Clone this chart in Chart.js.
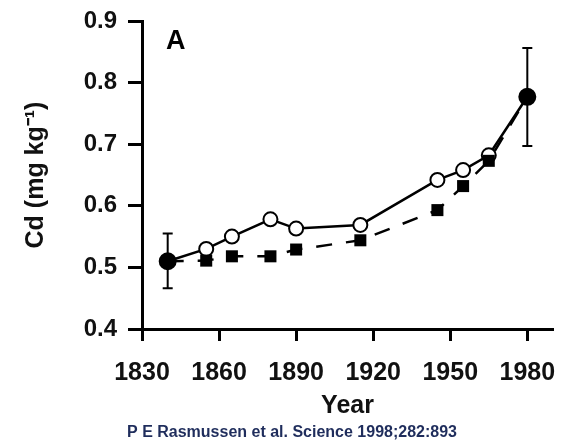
<!DOCTYPE html>
<html>
<head>
<meta charset="utf-8">
<script src="https://cdn.jsdelivr.net/npm/chart.js@4"></script>
<style>
  html, body { margin: 0; padding: 0; background: #fff; }
  #wrap { width: 563px; height: 443px; }
</style>
</head>
<body>
<div id="wrap"><canvas id="cdChart"></canvas></div>
<script>
// Cd in soil over time (Rasmussen et al. 1998, panel A)
const years = [1840, 1855, 1865, 1880, 1890, 1915, 1945, 1955, 1965, 1980];
const cdOpen = [0.51, 0.53, 0.55, 0.578, 0.563, 0.569, 0.642, 0.658, 0.682, 0.777];
const cdSquare = [0.51, 0.511, 0.518, 0.518, 0.529, 0.544, 0.593, 0.632, 0.673, 0.777];

// error bars on the two end points
const errYears = [1840, 1980];
const errLow = [0.466, 0.697];
const errHigh = [0.555, 0.856];

const xTicks = [1830, 1860, 1890, 1920, 1950, 1980];
const yTicks = [0.4, 0.5, 0.6, 0.7, 0.8, 0.9];

const FONT = '"Liberation Sans", Arial, sans-serif';

function pts(vals) {
    return years.map(function (yr, i) { return { x: yr, y: vals[i] }; });
}

var last = years.length - 1;

// error bars + panel letter + source line
var extrasPlugin = {
    id: 'extras',
    afterDatasetsDraw: function (chart) {
        var ctx = chart.ctx;
        var xs = chart.scales.x, ys = chart.scales.y;
        ctx.save();
        ctx.strokeStyle = '#000';
        ctx.lineWidth = 2;
        errYears.forEach(function (yr, i) {
            var px = xs.getPixelForValue(yr);
            var top = ys.getPixelForValue(errHigh[i]);
            var bot = ys.getPixelForValue(errLow[i]);
            ctx.beginPath();
            ctx.moveTo(px, top); ctx.lineTo(px, bot);
            ctx.moveTo(px - 5, top); ctx.lineTo(px + 5, top);
            ctx.moveTo(px - 5, bot); ctx.lineTo(px + 5, bot);
            ctx.stroke();
        });
        ctx.restore();
    },
    afterDraw: function (chart) {
        var ctx = chart.ctx;
        ctx.save();
        ctx.fillStyle = '#000';
        ctx.font = 'bold 27px ' + FONT;
        ctx.textAlign = 'left';
        ctx.textBaseline = 'middle';
        ctx.fillText('A', 166, 42);
        ctx.fillStyle = '#1f2d5c';
        ctx.font = 'bold 16px ' + FONT;
        ctx.textAlign = 'center';
        ctx.fillText('P E Rasmussen et al. Science 1998;282:893', 292, 433);
        ctx.restore();
    }
};

new Chart(document.getElementById('cdChart'), {
    type: 'line',
    data: {
        datasets: [{
            label: 'open',
            data: pts(cdOpen),
            borderColor: '#000',
            borderWidth: 2.5,
            pointStyle: 'circle',
            pointRadius: years.map(function (y, i) { return (i === 0 || i === last) ? 8 : 7; }),
            pointBackgroundColor: years.map(function (y, i) { return (i === 0 || i === last) ? '#000' : '#fff'; }),
            pointBorderColor: '#000',
            pointBorderWidth: 2,
            tension: 0,
            order: 1
        }, {
            label: 'square',
            data: pts(cdSquare),
            borderColor: '#000',
            borderWidth: 2.5,
            borderDash: [16, 14],
            pointStyle: 'rect',
            pointRadius: years.map(function (y, i) { return (i === 0 || i === last) ? 0 : 8.5; }),
            pointBackgroundColor: '#000',
            pointBorderColor: '#000',
            pointBorderWidth: 0,
            tension: 0,
            order: 0
        }]
    },
    options: {
        responsive: true,
        maintainAspectRatio: false,
        animation: false,
        layout: { padding: { top: 21, right: 3, left: 0, bottom: 0 } },
        plugins: {
            legend: { display: false },
            tooltip: { enabled: false }
        },
        scales: {
            x: {
                type: 'linear',
                min: 1830,
                max: 1990,
                afterBuildTicks: function (scale) {
                    scale.ticks = xTicks.map(function (v) { return { value: v }; });
                },
                afterFit: function (scale) {
                    scale.height = 114;
                    scale.paddingLeft = 0;
                    scale.paddingRight = 0;
                },
                grid: {
                    display: true,
                    drawOnChartArea: false,
                    drawTicks: true,
                    tickLength: 12,
                    tickWidth: 3,
                    tickColor: '#000'
                },
                border: { display: true, color: '#000', width: 3 },
                ticks: {
                    color: '#111',
                    padding: 17,
                    maxRotation: 0,
                    font: { family: FONT, size: 25, weight: 'bold' },
                    callback: function (v) { return String(v); }
                },
                title: {
                    display: true,
                    text: 'Year',
                    color: '#111',
                    padding: { top: 0, bottom: 22 },
                    font: { family: FONT, size: 25, weight: 'bold' }
                }
            },
            y: {
                min: 0.4,
                max: 0.9,
                afterBuildTicks: function (scale) {
                    scale.ticks = yTicks.map(function (v) { return { value: v }; });
                },
                afterFit: function (scale) {
                    scale.width = 142;
                    scale.paddingTop = 0;
                    scale.paddingBottom = 0;
                },
                grid: {
                    display: true,
                    drawOnChartArea: false,
                    drawTicks: true,
                    tickLength: 14,
                    tickWidth: 3,
                    tickColor: '#000'
                },
                border: { display: true, color: '#000', width: 3 },
                ticks: {
                    color: '#111',
                    padding: 11,
                    font: { family: FONT, size: 24, weight: 'bold' },
                    callback: function (v) { return Number(v).toFixed(1); }
                },
                title: {
                    display: true,
                    text: 'Cd (mg kg⁻¹)',
                    color: '#111',
                    padding: { top: 21, bottom: 0 },
                    font: { family: FONT, size: 25, weight: 'bold' }
                }
            }
        }
    },
    plugins: [extrasPlugin]
});
</script>
</body>
</html>
